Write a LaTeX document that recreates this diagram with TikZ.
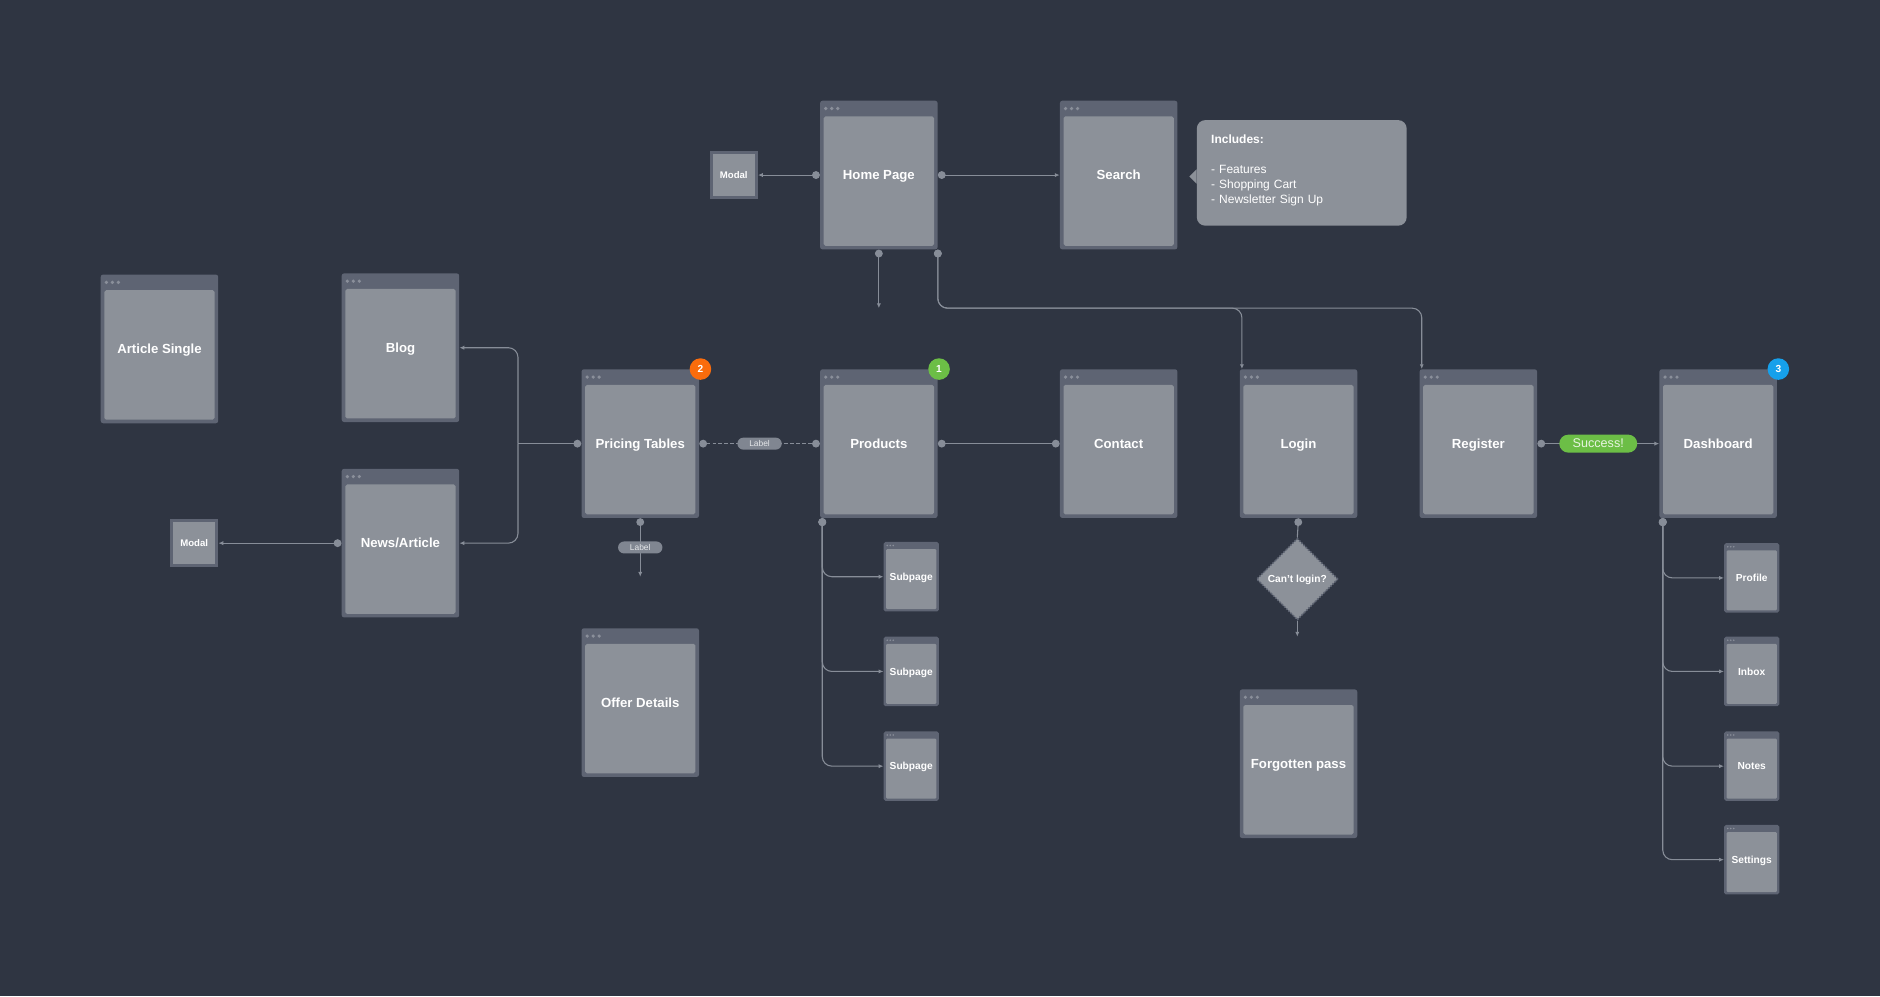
\documentclass[tikz,border=0pt]{standalone}
\usepackage{fontspec}
\setmainfont{Liberation Sans}
\usetikzlibrary{positioning, arrows.meta, shapes.geometric}

\definecolor{bgc}{RGB}{47,53,66}
\definecolor{framec}{RGB}{94,100,115}
\definecolor{innerc}{RGB}{140,145,153}
\definecolor{dotc}{RGB}{138,143,154}
\definecolor{linec}{RGB}{135,141,152}
\definecolor{tagc}{RGB}{128,134,145}
\definecolor{orangec}{RGB}{250,108,12}
\definecolor{greenc}{RGB}{108,190,70}
\definecolor{bluec}{RGB}{22,160,235}

\begin{document}
\begin{tikzpicture}[x=1pt, y=-1pt,
    every node/.style={text=white, inner sep=0pt},
    page/.style={rectangle, fill=framec, rounded corners=2pt,
      minimum width=98pt, minimum height=124pt,
      text height=7.9pt, text depth=0pt,
      font=\fontsize{11}{13}\selectfont\bfseries,
      path picture={
        \fill[innerc, rounded corners=1.5pt]
          ([shift={(3pt,-13pt)}]path picture bounding box.north west) rectangle
          ([shift={(-3pt,3pt)}]path picture bounding box.south east);
        \foreach \i in {0,1,2}
          \fill[dotc] ([shift={(4.7pt+\i*5pt,-6.5pt)}]path picture bounding box.north west) circle (1.5pt);
      }},
    subpage/.style={rectangle, fill=framec, rounded corners=1.5pt,
      minimum width=46pt, minimum height=58pt,
      text height=6.1pt, text depth=0pt,
      font=\fontsize{8.5}{10}\selectfont\bfseries,
      path picture={
        \fill[innerc, rounded corners=1pt]
          ([shift={(2pt,-6pt)}]path picture bounding box.north west) rectangle
          ([shift={(-2pt,2pt)}]path picture bounding box.south east);
        \foreach \i in {0,1,2}
          \fill[dotc] ([shift={(3pt+\i*2.5pt,-3pt)}]path picture bounding box.north west) circle (0.7pt);
      }},
    modal/.style={rectangle, fill=framec, minimum size=40pt,
      text height=5.7pt, text depth=0pt,
      font=\fontsize{8}{10}\selectfont\bfseries,
      path picture={
        \fill[innerc]
          ([shift={(2.5pt,-2.5pt)}]path picture bounding box.north west) rectangle
          ([shift={(-2.5pt,2.5pt)}]path picture bounding box.south east);
      }},
    note/.style={rectangle, fill=innerc, rounded corners=7pt,
      minimum width=175pt, minimum height=88pt, text width=151pt,
      inner xsep=12pt, align=left, font=\fontsize{10}{12.5}\selectfont},
    decision/.style={diamond, fill=innerc, draw=framec, line width=1.4pt,
      dash pattern=on 1.3pt off 1.3pt, minimum width=68pt, minimum height=68pt,
      text height=6.1pt, text depth=0pt,
      font=\fontsize{8.5}{10}\selectfont\bfseries},
    badge/.style={circle, minimum size=18pt, font=\fontsize{8.5}{10}\selectfont\bfseries},
    tag/.style={rectangle, fill=tagc, rounded corners=5pt, minimum width=37pt,
      minimum height=10pt, text={rgb,255:red,228;green,230;blue,233},
      font=\fontsize{7}{8}\selectfont},
    success/.style={rectangle, fill=greenc, rounded corners=7.5pt, minimum width=65pt,
      minimum height=15pt, text={rgb,255:red,232;green,244;blue,226},
      font=\fontsize{10.5}{12}\selectfont},
    link/.style={draw=linec, line width=0.9pt, rounded corners=8pt},
    dotto/.style={arrows={Circle[length=6.5pt]-Latex[length=4pt,width=3.5pt]}},
    dotdot/.style={arrows={Circle[length=6.5pt]-Circle[length=6.5pt]}},
    dotstart/.style={arrows={Circle[length=6.5pt]-}},
    tipto/.style={arrows={-Latex[length=4pt,width=3.5pt]}}]

\fill[bgc] (0,0) rectangle (1568,831);
\useasboundingbox (0,0) rectangle (1568,831);

% top row
\node[page] (home) at (733,146) {Home Page};
\node[page] (search) at (933,146) {Search};
\node[modal] (modaltop) at (612,146) {Modal};
\node[note, anchor=north west] (includes) at (998,100)
  {\textbf{Includes:}\\[12.5pt]- Features\\- Shopping Cart\\- Newsletter Sign Up\rule[-6pt]{0pt}{6pt}};
\fill[innerc] ([yshift=3pt]includes.west) -- ([shift={(-6pt,-3pt)}]includes.west)
  -- ([yshift=-9pt]includes.west) -- cycle;

% left side
\node[page] (article) at (133,291) {Article Single};
\node[page] (blog) at (334,290) {Blog};
\node[page] (news) at (334,453) {News/Article};
\node[modal] (modalleft) at (162,453) {Modal};

% middle row
\node[page] (pricing) at (534,370) {Pricing Tables};
\node[page] (offer) at (534,586) {Offer Details};
\node[page] (products) at (733,370) {Products};
\node[subpage] (sub1) at (760,481) {Subpage};
\node[subpage] (sub2) at (760,560) {Subpage};
\node[subpage] (sub3) at (760,639) {Subpage};
\node[page] (contact) at (933,370) {Contact};
\node[page] (login) at (1083,370) {Login};
\node[decision] (cant) at (1082,483) {Can't login?};
\node[page] (forgot) at (1083,637) {Forgotten pass};
\node[page] (register) at (1233,370) {Register};
\node[page] (dashboard) at (1433,370) {Dashboard};
\node[subpage] (profile) at (1461,482) {Profile};
\node[subpage] (inbox) at (1461,560) {Inbox};
\node[subpage] (notes) at (1461,639) {Notes};
\node[subpage] (settings) at (1461,717) {Settings};

% badges
\node[badge, fill=orangec] (badgetwo) at ([xshift=1pt]pricing.north east) {2};
\node[badge, fill=greenc] (badgeone) at ([xshift=1pt]products.north east) {1};
\node[badge, fill=bluec] (badgethree) at ([xshift=1pt]dashboard.north east) {3};

% connectors
\draw[link, dotto] (home.west) -- (modaltop.east);
\draw[link, dotto] (home.east) -- (search.west);
\coordinate (homedown) at (733,257);
\draw[link, dotto] (home.south) -- (homedown);
\coordinate (bus) at (0,257);
\coordinate (loginin) at ([xshift=2pt]login.north west);
\coordinate (registerin) at ([xshift=2pt]register.north west);
\draw[link, dotto] (home.south east) |- (registerin |- bus) -- (registerin);
\draw[link, dotto] (home.south east) |- (loginin |- bus) -- (loginin);

\coordinate (split) at (432,370);
\draw[link, dotstart] (pricing.west) -- (split);
\draw[link, tipto] (split) |- (blog.east);
\draw[link, tipto] (split) |- (news.east);
\draw[link, dotto] (news.west) -- (modalleft.east);

\draw[link, dotdot, dash pattern=on 3pt off 2pt] (pricing.east) -- node[tag] {Label} (products.west);
\coordinate (pricingdown) at (534,481);
\draw[link, dotto] (pricing.south) -- node[tag] {Label} (pricingdown);

\draw[link, dotdot] (products.east) -- (contact.west);
\coordinate (productsout) at ([xshift=2pt]products.south west);
\foreach \s in {sub1,sub2,sub3}
  \draw[link, dotto] (productsout) |- (\s.west);

\draw[link, dotstart] (login.south) -- (cant.north);
\coordinate (cantdown) at (1082,531);
\draw[link, tipto] (cant.south) -- (cantdown);

\draw[link, dotto] (register.east) -- node[success] {Success!} (dashboard.west);
\coordinate (dashboardout) at ([xshift=3pt]dashboard.south west);
\foreach \s in {profile,inbox,notes,settings}
  \draw[link, dotto] (dashboardout) |- (\s.west);
\end{tikzpicture}
\end{document}
